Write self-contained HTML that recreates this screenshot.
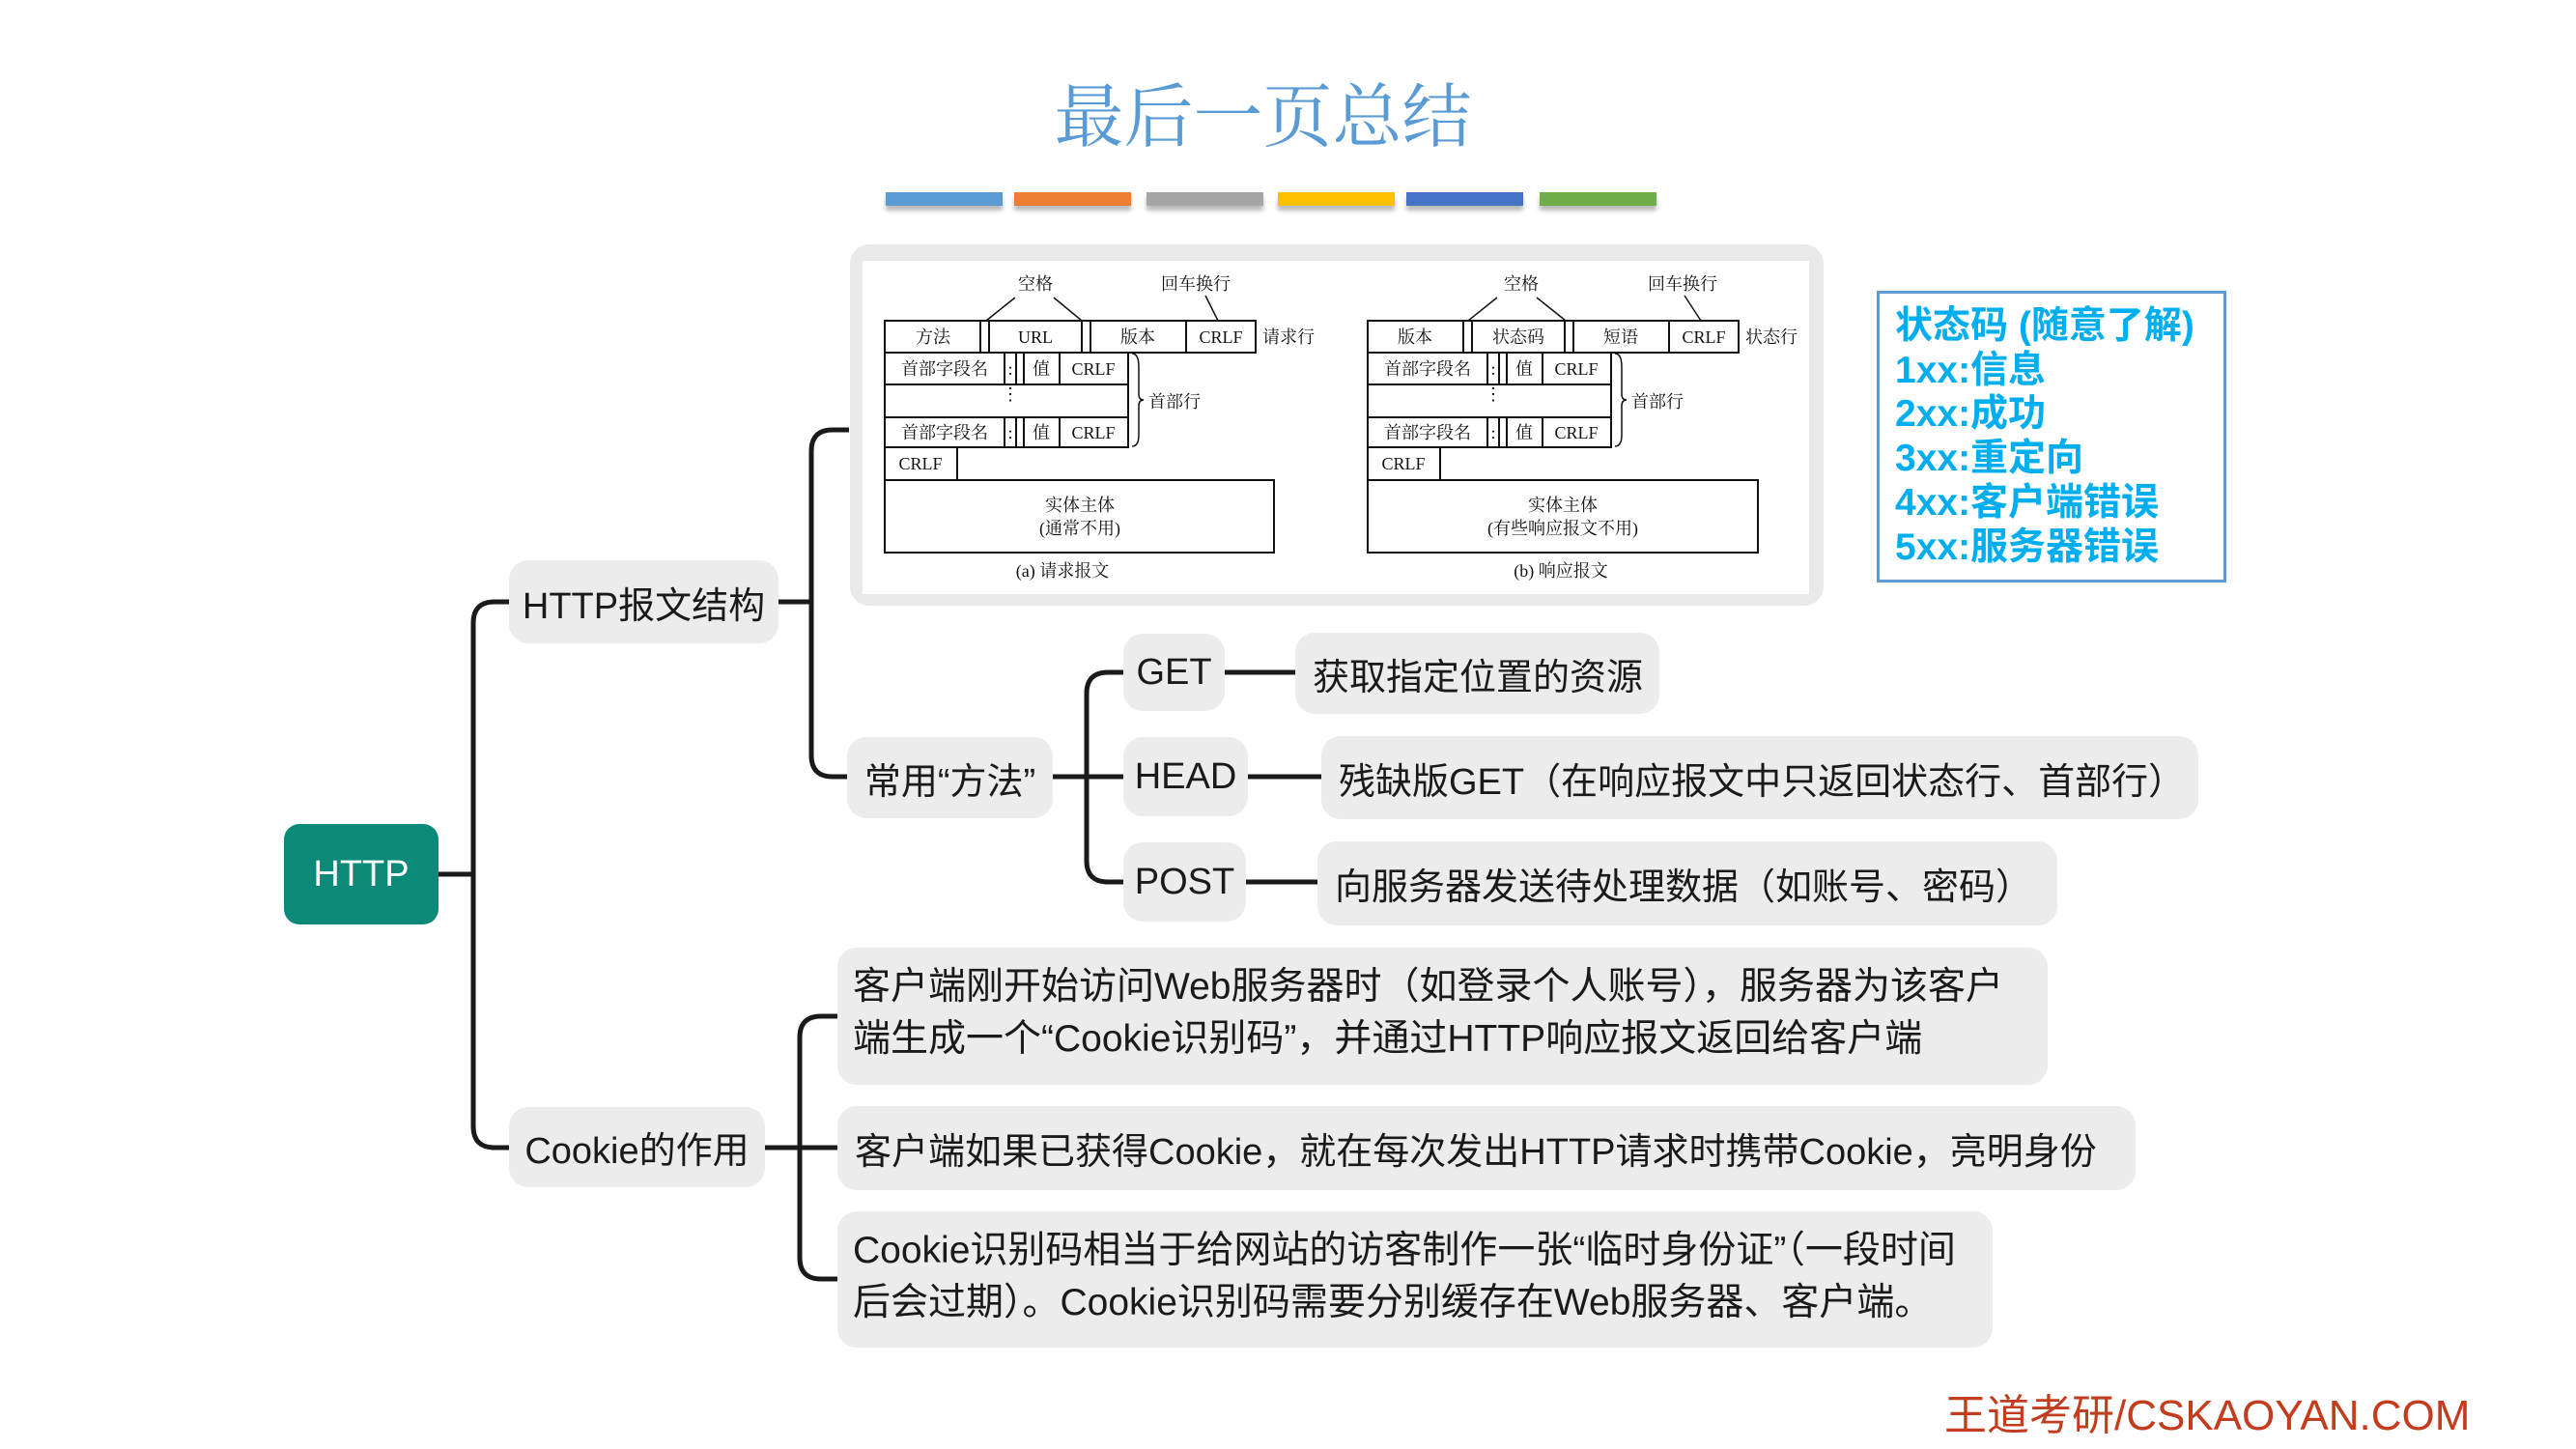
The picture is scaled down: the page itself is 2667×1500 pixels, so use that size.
<!DOCTYPE html>
<html><head><meta charset="utf-8">
<style>
html,body{margin:0;padding:0;}
body{width:2667px;height:1500px;position:relative;background:#fff;overflow:hidden;font-family:"Liberation Sans","Noto Sans CJK SC",sans-serif;color:#1a1a1a;}
.abs{position:absolute;}
.bar{position:absolute;top:199px;height:14px;width:121px;box-shadow:0 5px 5px rgba(0,0,0,.28);}
.node{position:absolute;background:#ececec;border-radius:20px;display:flex;align-items:center;justify-content:center;font-size:38px;white-space:nowrap;box-sizing:border-box;}
.desc{justify-content:flex-start;padding-left:18px;font-size:38px;}
.multi{display:block;padding:14px 0 0 16px;line-height:54px;white-space:nowrap;font-size:39px;}
.st{position:absolute;left:1962px;font-size:39px;font-weight:bold;color:#00aeef;white-space:nowrap;line-height:1;}
</style></head><body>

<div class="abs" style="left:1040px;top:70px;width:535px;text-align:center;font-family:'Noto Serif CJK SC',serif;font-weight:normal;font-size:72px;color:#5b9bd5;line-height:90px;">最后一页总结</div>

<div class="bar" style="left:917px;background:#5b9bd5"></div>
<div class="bar" style="left:1050px;background:#ed7d31"></div>
<div class="bar" style="left:1187px;background:#a5a5a5"></div>
<div class="bar" style="left:1323px;background:#ffc000"></div>
<div class="bar" style="left:1456px;background:#4472c4"></div>
<div class="bar" style="left:1594px;background:#70ad47"></div>

<div class="abs" style="left:880px;top:253px;width:1008px;height:374px;background:#e9e9e9;border-radius:20px;"></div>
<div class="abs" style="left:893px;top:270px;width:980px;height:345px;background:#fff;"></div>

<div class="abs" style="left:1943px;top:301px;width:362px;height:302px;border:3px solid #5b9bd5;box-sizing:border-box;"></div>
<div class="st" style="top:318px">状态码 (随意了解)</div>
<div class="st" style="top:364px">1xx:信息</div>
<div class="st" style="top:409px">2xx:成功</div>
<div class="st" style="top:455px">3xx:重定向</div>
<div class="st" style="top:501px">4xx:客户端错误</div>
<div class="st" style="top:547px">5xx:服务器错误</div>

<svg class="abs" style="left:0;top:0" width="2667" height="1500" xmlns="http://www.w3.org/2000/svg">
<g fill="none" stroke="#1a1a1a" stroke-width="5" stroke-linecap="butt">
<path d="M454,905 H490"/>
<path d="M527,623 H512 Q490,623 490,645 V1166 Q490,1188 512,1188 H527"/>
<path d="M806,623 H840"/>
<path d="M879,445 H862 Q840,445 840,467 V782 Q840,804 862,804 H877"/>
<path d="M1090,804 H1163"/>
<path d="M1163,696 H1147 Q1125,696 1125,718 V891 Q1125,913 1147,913 H1163"/>
<path d="M1268,696 H1341"/>
<path d="M1292,804 H1368"/>
<path d="M1290,913 H1364"/>
<path d="M792,1188 H867"/>
<path d="M867,1052 H850 Q828,1052 828,1074 V1302 Q828,1324 850,1324 H867"/>
</g>
<g fill="none" stroke="#111" stroke-width="2">
<rect x="916" y="332" width="384" height="33"/>
<path d="M1015,332V365M1024,332V365M1120,332V365M1129,332V365M1228,332V365"/>
<rect x="916" y="365" width="252" height="33"/>
<rect x="916" y="398" width="252" height="34"/>
<rect x="916" y="432" width="252" height="31"/>
<path d="M1040,365V398M1052,365V398M1060,365V398M1097,365V398"/>
<path d="M1040,432V463M1052,432V463M1060,432V463M1097,432V463"/>
<rect x="916" y="463" width="75" height="34"/>
<rect x="916" y="497" width="403" height="75"/>
<path d="M1051,308L1021,332M1091,308L1120,332M1248,306L1261,332" stroke-width="1.5"/>
<path d="M1172,366 Q1179,366 1179,380 V408 Q1179,414 1184,414 Q1179,414 1179,420 V450 Q1179,462 1172,462" stroke-width="1.5"/>
<rect x="1416" y="332" width="384" height="33"/>
<path d="M1515,332V365M1524,332V365M1620,332V365M1629,332V365M1728,332V365"/>
<rect x="1416" y="365" width="252" height="33"/>
<rect x="1416" y="398" width="252" height="34"/>
<rect x="1416" y="432" width="252" height="31"/>
<path d="M1540,365V398M1552,365V398M1560,365V398M1597,365V398"/>
<path d="M1540,432V463M1552,432V463M1560,432V463M1597,432V463"/>
<rect x="1416" y="463" width="75" height="34"/>
<rect x="1416" y="497" width="404" height="75"/>
<path d="M1550,308L1520,332M1591,308L1621,332M1744,306L1761,332" stroke-width="1.5"/>
<path d="M1672,366 Q1679,366 1679,380 V408 Q1679,414 1684,414 Q1679,414 1679,420 V450 Q1679,462 1672,462" stroke-width="1.5"/>
</g>
<g font-family="Liberation Serif,Noto Serif CJK SC,serif" font-size="18" fill="#111" text-anchor="middle">
<text x="1072" y="300">空格</text><text x="1238" y="300">回车换行</text>
<text x="966" y="355">方法</text><text x="1072" y="355">URL</text><text x="1178" y="355">版本</text><text x="1264" y="355">CRLF</text>
<text x="1334" y="355">请求行</text>
<text x="978" y="388">首部字段名</text><text x="1046" y="388">:</text><text x="1078" y="388">值</text><text x="1132" y="388">CRLF</text>
<text x="1046" y="414">⋮</text>
<text x="978" y="454">首部字段名</text><text x="1046" y="454">:</text><text x="1078" y="454">值</text><text x="1132" y="454">CRLF</text>
<text x="1216" y="422">首部行</text>
<text x="953" y="486">CRLF</text>
<text x="1118" y="529">实体主体</text><text x="1118" y="553">(通常不用)</text>
<text x="1100" y="597">(a) 请求报文</text>

<text x="1575" y="300">空格</text><text x="1742" y="300">回车换行</text>
<text x="1465" y="355">版本</text><text x="1572" y="355">状态码</text><text x="1678" y="355">短语</text><text x="1764" y="355">CRLF</text>
<text x="1834" y="355">状态行</text>
<text x="1478" y="388">首部字段名</text><text x="1546" y="388">:</text><text x="1578" y="388">值</text><text x="1632" y="388">CRLF</text>
<text x="1546" y="414">⋮</text>
<text x="1478" y="454">首部字段名</text><text x="1546" y="454">:</text><text x="1578" y="454">值</text><text x="1632" y="454">CRLF</text>
<text x="1716" y="422">首部行</text>
<text x="1453" y="486">CRLF</text>
<text x="1618" y="529">实体主体</text><text x="1618" y="553">(有些响应报文不用)</text>
<text x="1616" y="597">(b) 响应报文</text>
</g>
</svg>

<div class="node" style="left:294px;top:853px;width:160px;height:104px;background:#0b8a79;color:#fff;border-radius:16px;">HTTP</div>
<div class="node" style="left:527px;top:580px;width:279px;height:86px;">HTTP报文结构</div>
<div class="node" style="left:877px;top:763px;width:213px;height:84px;">常用“方法”</div>
<div class="node" style="left:1163px;top:656px;width:105px;height:80px;">GET</div>
<div class="node" style="left:1163px;top:763px;width:129px;height:82px;">HEAD</div>
<div class="node" style="left:1163px;top:872px;width:127px;height:82px;">POST</div>
<div class="node desc" style="left:1341px;top:655px;width:377px;height:84px;">获取指定位置的资源</div>
<div class="node desc" style="left:1368px;top:762px;width:908px;height:86px;">残缺版GET（在响应报文中只返回状态行、首部行）</div>
<div class="node desc" style="left:1364px;top:871px;width:766px;height:87px;">向服务器发送待处理数据（如账号、密码）</div>
<div class="node" style="left:527px;top:1146px;width:265px;height:83px;">Cookie的作用</div>
<div class="node desc multi" style="left:867px;top:981px;width:1253px;height:142px;">客户端刚开始访问Web服务器时（如登录个人账号），服务器为该客户<br>端生成一个“Cookie识别码”，并通过HTTP响应报文返回给客户端</div>
<div class="node desc" style="left:867px;top:1145px;width:1344px;height:87px;">客户端如果已获得Cookie，就在每次发出HTTP请求时携带Cookie，亮明身份</div>
<div class="node desc multi" style="left:867px;top:1254px;width:1196px;height:141px;">Cookie识别码相当于给网站的访客制作一张“临时身份证”（一段时间<br>后会过期）。Cookie识别码需要分别缓存在Web服务器、客户端。</div>

<div class="abs" style="left:2013px;top:1436px;font-size:44px;color:#c43c1e;white-space:nowrap;line-height:60px;">王道考研/CSKAOYAN.COM</div>
</body></html>
